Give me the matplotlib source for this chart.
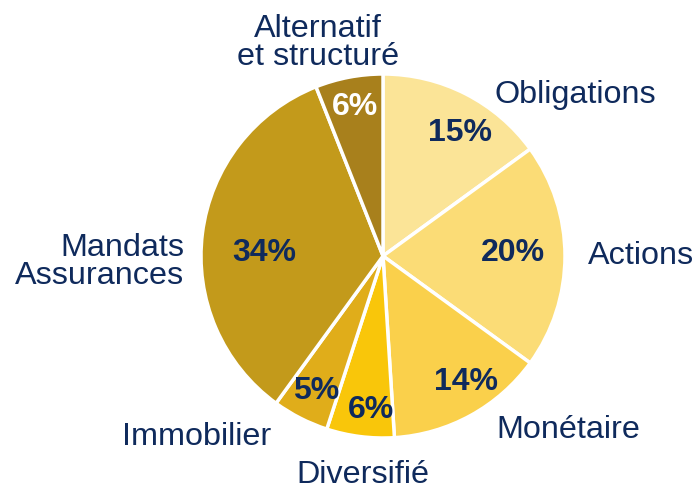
import matplotlib
matplotlib.use("Agg")
import matplotlib.pyplot as plt

# allocation shares, clockwise from the top
categories = ["Obligations", "Actions", "Monétaire", "Diversifié",
              "Immobilier", "Mandats\nAssurances", "Alternatif\net structuré"]
values = [15, 20, 14, 6, 5, 34, 6]
colors = ["#FBE497", "#FBDC76", "#FAD04B", "#F9C60A",
          "#E0AD1A", "#C39A1B", "#A8801C"]

navy = "#0F2A5C"
plt.rcParams["font.family"] = ["Liberation Sans", "DejaVu Sans"]

W, H = 699, 489
cx, cy, R = 383, 257, 182

fig = plt.figure(figsize=(W / 100, H / 100), dpi=100)
ax = fig.add_axes([(cx - R) / W, (H - cy - R) / H, 2 * R / W, 2 * R / H])

wedges, _ = ax.pie(values, colors=colors, startangle=90, counterclock=False,
                   radius=1.0, wedgeprops=dict(edgecolor="white", linewidth=2.5))
ax.set_xlim(-1, 1)
ax.set_ylim(-1, 1)
ax.set_aspect("equal")
ax.axis("off")


def px(x, y):
    # pixel position in the picture -> data coords of the pie axes
    return (x - cx) / R, (cy - y) / R


# percentage labels inside the slices
pct_pos = [(460, 133), (513, 253), (466, 382), (371, 410),
           (316, 391), (264, 253), (355, 107)]
for i, (v, p) in enumerate(zip(values, pct_pos)):
    c = "white" if i == 6 else navy
    x, y = px(*p)
    ax.text(x, y, "%d%%" % v, ha="center", va="center", fontsize=23,
            fontweight="bold", color=c)

# outer category labels
lab_pos = [(575, 95, "center"), (641, 256, "center"), (568, 430, "center"),
           (363, 475, "center"), (197, 437, "center"), (184, 262, "right"),
           (318, 43, "center")]
for name, (lx, ly, ha) in zip(categories, lab_pos):
    x, y = px(lx, ly)
    ax.text(x, y, name, ha=ha, va="center", fontsize=23.3, color=navy,
            linespacing=0.95, multialignment=ha, clip_on=False)

fig.savefig("out.png", dpi=100)
